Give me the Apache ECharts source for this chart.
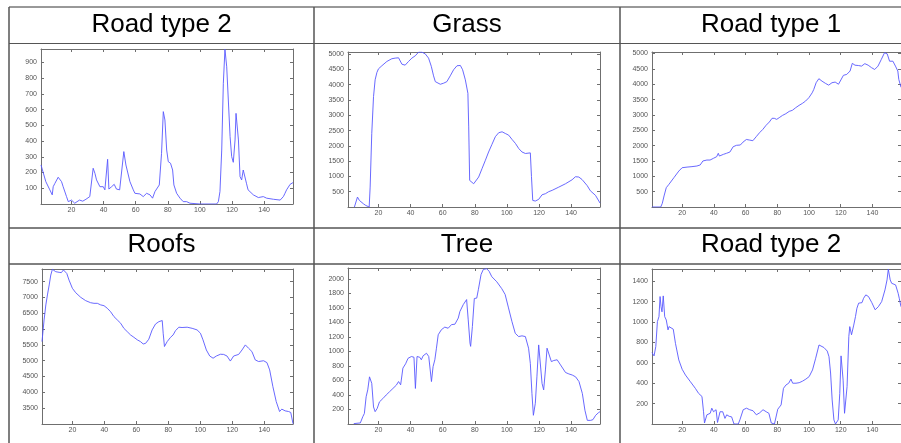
<!DOCTYPE html>
<html>
<head>
<meta charset="utf-8">
<script src="https://cdn.jsdelivr.net/npm/echarts@6/dist/echarts.min.js"></script>
<style>
html, body { margin: 0; padding: 0; background: #fff; }
#chart { width: 901px; height: 443px; }
</style>
</head>
<body>
<div id="chart"></div>
<script>
'use strict';

var titles = ['Road type 2', 'Grass', 'Road type 1', 'Roofs', 'Tree', 'Road type 2'];
var xRange = [1, 158];
var xStep = 20;
var yRanges = [[0, 985], [0, 5070], [0, 5050], [3000, 7900], [0, 2150], [0, 1520]];
var ySteps = [100, 500, 500, 500, 200, 200];

// band index, reflectance
var roadType2Top = [[1,248],[2,258],[4,142],[5,130],[6.5,90],[7,100],[8,58],[8.6,110],[9.6,130],[11.7,170],
    [13.8,142],[14.8,110],[16.9,47],[18,15],[19,9],[20,25],[21,30],[22,5],[23,0],[25,25],[27,18],[29,30],
    [31.4,47],[32.5,58],[33.5,227],[34.6,195],[35.6,153],[36.6,153],[37.7,110],[38.7,100],[39.8,110],
    [40.8,90],[41.8,95],[42.5,284],[43.3,95],[45,110],[46.6,125],[48,95],[50,90],[51,100],[52.6,333],
    [53.9,248],[54.9,237],[56.4,142],[58.5,90],[59.5,68],[62.6,64],[64.7,47],[66.8,68],[68.9,58],[70.5,37],
    [72,79],[73,68],[74.7,121],[76.1,322],[77.2,587],[78.2,534],[79.3,343],[80.3,269],[81.7,259],[83,216],
    [83.8,121],[85.5,68],[87.6,37],[89.6,15],[91.7,15],[93.8,5],[100,0],[110.4,0],[111.5,15],[112.5,79],
    [113.6,343],[114.6,767],[115.6,983],[116.7,872],[117.7,661],[118.8,428],[119.8,301],[120.8,265],
    [121.9,407],[122.5,576],[123.3,576],[124,407],[125,174],[126,153],[127,216],[128,212],[129,132],[130,90],
    [133.3,58],[136.4,41],[139.5,47],[141.6,37],[145.8,30],[150,25],[152,47],[153,68],[154,90],[156.2,125],
    [158,136]];

var grass = [[5,0],[6.9,325],[8.1,215],[9.2,160],[10.6,105],[12.1,50],[12.7,0],[14.2,0],[14.8,650],
    [15.8,2400],[16.9,3610],[17.9,4160],[19,4400],[20,4520],[22.1,4620],[25.2,4760],[28.3,4850],[30.4,4870],
    [32.5,4880],[33.5,4840],[34.6,4670],[35.6,4620],[36.6,4640],[38.7,4760],[40.8,4870],[42.9,4945],
    [45,5066],[47,5066],[49.1,5010],[51.2,4870],[52.9,4600],[54.3,4290],[55.4,4100],[56.4,4050],[58.5,4015],
    [60.6,4050],[62.6,4100],[64.7,4290],[66.8,4490],[68.9,4620],[71,4630],[72.4,4490],[74.1,4160],
    [75.7,3720],[76.2,2620],[76.8,870],[77.6,820],[79.3,760],[80.3,785],[82.4,980],[84.5,1255],[86.6,1530],
    [88.6,1800],[90.7,2050],[92.8,2300],[94.9,2430],[97,2460],[99,2405],[101.1,2350],[103.2,2210],
    [105.3,2080],[107.4,1910],[109.4,1800],[111.5,1750],[114.6,1770],[115.3,1000],[116.1,215],[117.7,195],
    [119.8,250],[121.9,400],[124,435],[126,500],[128.2,545],[132.3,650],[136.5,760],[140.6,890],[142.7,990],
    [144.8,980],[146.8,900],[150,700],[152,530],[155.2,380],[158,130]];

var roadType1 = [[1,0],[6.5,0],[7.5,120],[8.6,360],[10,630],[11.7,740],[14.8,955],[17.9,1170],[20,1280],
    [23.1,1300],[26.2,1315],[29.3,1335],[31.4,1370],[33.1,1500],[35.6,1530],[37.6,1530],[39.7,1585],
    [41.8,1640],[42.8,1750],[43.5,1660],[46,1715],[48,1750],[50.1,1790],[52.2,1965],[54.3,2010],[56.7,2020],
    [58.4,2115],[60.5,2200],[62.6,2180],[64.6,2160],[66.7,2290],[68.8,2420],[70.9,2530],[72.9,2660],
    [75,2770],[76.7,2890],[78.1,2890],[79.6,2855],[81.2,2910],[83.3,2985],[85.4,3040],[87.5,3115],
    [89.5,3150],[91.6,3235],[93.7,3310],[95.8,3375],[97.8,3450],[99.9,3560],[102,3720],[103,3830],
    [104.5,4050],[106.2,4180],[108.2,4100],[110.3,4030],[112.4,3970],[114.5,4050],[116.5,4070],[118.6,4000],
    [119.6,4050],[121.7,4290],[123.8,4320],[125.9,4430],[127.3,4680],[129,4620],[131.1,4610],[133.1,4590],
    [135.2,4670],[137.3,4620],[139.4,4540],[141.4,4480],[143.5,4590],[145.6,4810],[147.6,5025],[149.3,4990],
    [150.8,4750],[152.9,4750],[154.5,4590],[156,4430],[156.6,4160],[158,3900]];

var roofs = [[1,5605],[2.3,6290],[3.4,6763],[4.4,7080],[5.5,7395],[6.5,7710],[7.5,7890],[8.6,7870],
    [9.6,7815],[11.7,7795],[13.1,7785],[14.4,7870],[15.2,7890],[16.5,7760],[17.9,7550],[20,7290],[22.1,7150],
    [25.2,7005],[28.3,6900],[31.4,6835],[33.5,6815],[35.6,6815],[37.7,6765],[39.8,6740],[41.8,6660],
    [43.9,6550],[46,6395],[48.1,6290],[50.2,6185],[52.2,6025],[54.3,5920],[56.4,5815],[58.5,5740],
    [60.6,5660],[62.6,5605],[64.3,5530],[65.8,5550],[67.8,5680],[69.9,5975],[72,6160],[74.1,6235],
    [76.2,6270],[76.8,5870],[77.6,5450],[79.3,5605],[81.4,5740],[83,5815],[84.5,5950],[86.6,6060],
    [88.6,6050],[91.8,6060],[94.9,6025],[98,5975],[100.1,5870],[101.7,5660],[103.8,5340],[105.9,5150],
    [108,5080],[110.1,5150],[112.6,5205],[114.6,5200],[116.7,5150],[118.8,4990],[120.9,5150],[124,5200],
    [126.1,5340],[128.2,5500],[130.2,5395],[132.3,5290],[134.4,5025],[136.5,4975],[139.6,5000],[141.7,4940],
    [143.4,4710],[145.4,4185],[147.5,3710],[149.6,3395],[151,3470],[153.1,3415],[155.2,3395],[156.6,3365],
    [158,3010]];

var tree = [[4.6,5],[8.7,15],[10.2,100],[11.2,145],[12.3,375],[13.3,470],[14.4,650],[15,675],[15.8,560],
    [16.9,235],[17.9,170],[19.2,215],[20.6,305],[22.7,350],[24.8,400],[26.9,445],[29,490],[31.1,535],
    [32.5,585],[33.8,540],[34.2,605],[35.2,770],[36.9,830],[38.4,905],[40.5,930],[42.1,920],[43,490],
    [44,930],[45.7,920],[46.7,885],[47.8,940],[49.9,975],[51.3,930],[53,585],[54,790],[55.1,885],[56.1,1045],
    [57.2,1230],[59.2,1300],[61.3,1335],[63.4,1320],[65.5,1370],[67.6,1375],[69.7,1460],[70.7,1550],
    [72.8,1645],[74.9,1715],[75.9,1435],[77,1115],[77.4,1070],[78.5,1345],[79.7,1730],[81.2,1735],
    [82.2,1850],[83.9,2060],[85.3,2130],[87.4,2140],[88.9,2105],[90.6,2030],[93.7,1960],[96.8,1865],
    [98.9,1785],[101,1600],[103.1,1415],[105.2,1250],[107.3,1205],[109.4,1215],[111.5,1205],[113.5,1045],
    [114.6,835],[115.6,420],[116.5,120],[117.7,285],[118.7,650],[119.8,1090],[120.8,1070],[121.9,560],
    [122.9,470],[124,745],[125,1045],[126.1,1020],[127.7,860],[129.2,875],[131.3,885],[133.4,815],
    [136.5,710],[138.6,690],[140.7,675],[142.8,650],[144.9,585],[147,420],[148.6,190],[150.1,50],
    [152.2,50],[153.6,60],[155.3,120],[157,155],[158,170]];

var roadType2Bottom = [[1,700],[1.5,694],[2.3,668],[3.4,760],[4.4,1004],[5.4,1053],[6.1,1250],[6.7,1150],
    [7.3,1100],[8.1,1256],[9,1053],[10,1020],[11.1,923],[11.7,955],[12.7,940],[14.4,930],[15.8,790],
    [17.9,628],[20,537],[22.1,480],[25.2,415],[28.3,350],[30.4,300],[32.5,270],[33.5,120],[34.1,10],
    [35.6,90],[37.7,105],[38.7,155],[39.8,120],[41.4,140],[42.3,15],[42.9,5],[43.9,120],[45.6,120],[47,55],
    [48.1,90],[49.7,75],[51.2,70],[52.7,0],[55.4,0],[56.4,40],[58.5,140],[60.6,155],[62.6,140],[64.7,130],
    [66.8,90],[68.9,110],[71,140],[73,120],[74.7,105],[76.2,10],[78.2,0],[79.3,10],[80.3,145],[81.4,140],
    [82.4,187],[83.9,350],[85.5,383],[87.2,400],[88.6,440],[89.7,400],[91.8,400],[93.8,405],[95.9,420],
    [98,440],[100.1,465],[102.2,530],[104.2,645],[106.3,775],[107.4,790],[109.4,750],[111.5,715],[112.6,660],
    [113.6,500],[114.6,236],[115.7,40],[116.7,0],[118.4,40],[119.4,300],[120.2,668],[120.9,660],[121.5,430],
    [122.4,105],[123.4,105],[124,367],[125.1,857],[125.7,955],[126.8,875],[128.2,970],[129.3,1053],
    [130.2,1135],[131.3,1185],[133.4,1190],[134.4,1233],[135.8,1266],[137.5,1250],[139.6,1190],[141.7,1120],
    [143.7,1150],[145.8,1200],[147.9,1315],[149.2,1413],[150,1518],[151.2,1413],[152.1,1380],[153.1,1397],
    [154.6,1364],[156.2,1282],[156.9,1233],[158,1150]];

var spectra = [roadType2Top, grass, roadType1, roofs, tree, roadType2Bottom];

var chart = echarts.init(document.getElementById('chart'));

// plot boxes, one per table cell
var boxes = [
    {left: 41, top: 49, width: 252, height: 155},
    {left: 348, top: 52, width: 252, height: 155},
    {left: 652, top: 52, width: 251, height: 155},
    {left: 42, top: 269, width: 251, height: 155},
    {left: 348, top: 268, width: 252, height: 156},
    {left: 652, top: 269, width: 251, height: 155}
];
var titleCenters = [[161.5, 24.5], [467, 24.5], [771, 24.5], [161.5, 244.5], [467, 244.5], [771, 244.5]];

var axisGray = '#6f6f6f';
var labelStyle = {fontSize: 7, color: '#555', fontFamily: 'Arial'};
var plain = function(v) { return String(v); };

var grids = [], xAxes = [], yAxes = [], series = [];
spectra.forEach(function(data, i) {
    grids.push(boxes[i]);
    ['bottom', 'top'].forEach(function(pos) {
        xAxes.push({
            type: 'value', gridIndex: i, position: pos,
            min: xRange[0], max: xRange[1],
            splitNumber: 8, minInterval: xStep, maxInterval: xStep,
            axisLine: {show: true, onZero: false, lineStyle: {color: axisGray, width: 1}},
            axisTick: {show: true, inside: true, length: 3, lineStyle: {color: axisGray}},
            axisLabel: Object.assign({show: pos === 'bottom', margin: 3, formatter: plain,
                showMinLabel: false, showMaxLabel: false}, labelStyle),
            splitLine: {show: false}
        });
    });
    ['left', 'right'].forEach(function(pos) {
        yAxes.push({
            type: 'value', gridIndex: i, position: pos,
            min: yRanges[i][0], max: yRanges[i][1],
            splitNumber: 10, minInterval: ySteps[i], maxInterval: ySteps[i],
            axisLine: {show: true, onZero: false, lineStyle: {color: axisGray, width: 1}},
            axisTick: {show: true, inside: true, length: 3, lineStyle: {color: axisGray}},
            axisLabel: Object.assign({show: pos === 'left', margin: 4, formatter: plain,
                showMinLabel: false, showMaxLabel: false}, labelStyle),
            splitLine: {show: false}
        });
    });
    series.push({
        type: 'line',
        xAxisIndex: i * 2,
        yAxisIndex: i * 2,
        data: data,
        symbol: 'none',
        smooth: false,
        lineStyle: {color: '#5858ff', width: 0.9},
        clip: true
    });
});

// table rules and header texts
var graphics = [];
function rule(x1, y1, x2, y2, color, w) {
    graphics.push({type: 'line', silent: true, shape: {x1: x1, y1: y1, x2: x2, y2: y2},
        style: {stroke: color, lineWidth: w}});
}
[[7, '#333'], [43.5, '#555'], [228, '#000'], [264, '#000']].forEach(function(h) {
    rule(9, h[0], 901, h[0], h[1], 1);
});
[9, 314, 620].forEach(function(x) {
    rule(x, 7, x, 443, '#555', 1.5);
});
titles.forEach(function(t, i) {
    graphics.push({type: 'text', silent: true, x: titleCenters[i][0], y: titleCenters[i][1],
        style: {text: t, fill: '#000', fontSize: 26, fontFamily: 'Liberation Sans, Arial',
            align: 'center', verticalAlign: 'middle', textAlign: 'center', textVerticalAlign: 'middle'}});
});

chart.setOption({
    animation: false,
    backgroundColor: '#fff',
    grid: grids,
    xAxis: xAxes,
    yAxis: yAxes,
    series: series,
    graphic: graphics
});
</script>
</body>
</html>
